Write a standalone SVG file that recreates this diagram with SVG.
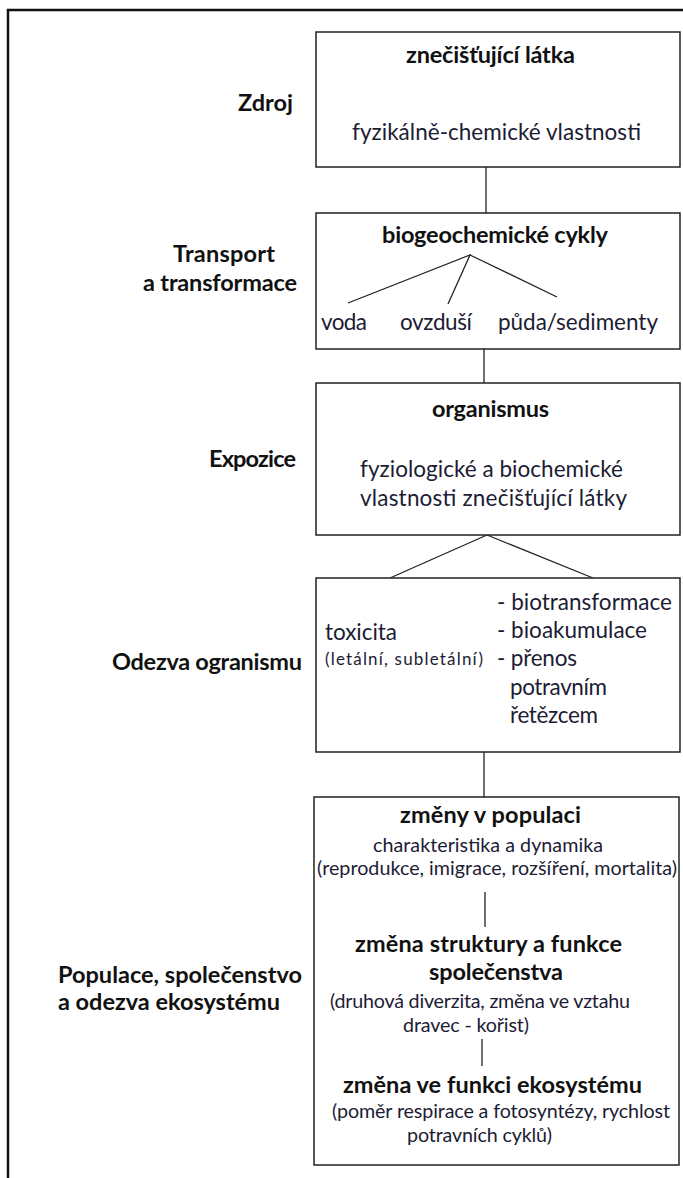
<svg xmlns="http://www.w3.org/2000/svg" width="683" height="1178" viewBox="0 0 683 1178">
<style>
text{font-family:Lato,"Open Sans","DejaVu Sans",sans-serif;fill:#1c1c34}
.b{font-weight:bold;fill:#111;font-size:23.5px}
.n{font-size:22.5px}
.s{font-size:19.7px}
.xs{font-size:17px}
.box{fill:#fff;stroke:#222;stroke-width:1.5}
.ln{stroke:#222;stroke-width:1.3;fill:none}
</style>
<rect width="683" height="1178" fill="#fff"/>
<path d="M8 1178 V10 H683" fill="none" stroke="#111" stroke-width="2.5"/>
<g id="labels">
<text class="b" x="238" y="111" textLength="55">Zdroj</text>
<text class="b" x="173" y="262" textLength="102">Transport</text>
<text class="b" x="143" y="291" textLength="154">a transformace</text>
<text class="b" x="209" y="467" textLength="87">Expozice</text>
<text class="b" x="112" y="670" textLength="190">Odezva ogranismu</text>
<text class="b" x="58" y="983" textLength="244">Populace, společenstvo</text>
<text class="b" x="58" y="1010" textLength="222">a odezva ekosystému</text>
</g>
<g id="connectors">
<line class="ln" x1="486" y1="167" x2="486" y2="213"/>
<line class="ln" x1="484" y1="349" x2="484" y2="383"/>
<line class="ln" x1="484" y1="752" x2="484" y2="797"/>
<line class="ln" x1="487" y1="535" x2="390" y2="578"/>
<line class="ln" x1="487" y1="535" x2="593" y2="578"/>
</g>
<g id="node-zdroj">
<rect class="box" x="316" y="32" width="364" height="135"/>
<text class="b" x="406" y="63" textLength="169">znečišťující látka</text>
<text class="n" x="352" y="140" textLength="289">fyzikálně-chemické vlastnosti</text>
</g>
<g id="node-transport">
<rect class="box" x="316" y="213" width="364" height="136"/>
<text class="b" x="382" y="243" textLength="226">biogeochemické cykly</text>
<path class="ln" d="M348 303 L470 255 L448 304 M470 255 L557 297"/>
<text class="n" x="321" y="330" textLength="46">voda</text>
<text class="n" x="400" y="330" textLength="72">ovzduší</text>
<text class="n" x="498" y="330" textLength="160">půda/sedimenty</text>
</g>
<g id="node-expozice">
<rect class="box" x="316" y="383" width="364" height="152"/>
<text class="b" x="432" y="417" textLength="117">organismus</text>
<text class="n" x="360" y="477" textLength="263">fyziologické a biochemické</text>
<text class="n" x="360" y="506" textLength="267">vlastnosti znečišťující látky</text>
</g>
<g id="node-odezva">
<rect class="box" x="316" y="578" width="364" height="174"/>
<text class="n" x="325" y="640" textLength="72">toxicita</text>
<text class="xs" x="325" y="665" textLength="158">(letální, subletální)</text>
<text class="n" x="497" y="610" textLength="175">- biotransformace</text>
<text class="n" x="497" y="638" textLength="150">- bioakumulace</text>
<text class="n" x="497" y="666" textLength="80">- přenos</text>
<text class="n" x="510" y="695" textLength="97">potravním</text>
<text class="n" x="510" y="723" textLength="88">řetězcem</text>
</g>
<g id="node-populace">
<rect class="box" x="314" y="797" width="365" height="368"/>
<text class="b" x="400" y="823" textLength="181">změny v populaci</text>
<text class="s" x="373" y="852" textLength="230">charakteristika a dynamika</text>
<text class="s" x="317" y="875" textLength="360">(reprodukce, imigrace, rozšíření, mortalita)</text>
<line class="ln" x1="485" y1="892" x2="485" y2="927"/>
<text class="b" x="355" y="952" textLength="267">změna struktury a funkce</text>
<text class="b" x="429" y="980" textLength="134">společenstva</text>
<text class="s" x="330" y="1008" textLength="300">(druhová diverzita, změna ve vztahu</text>
<text class="s" x="403" y="1032" textLength="126">dravec - kořist)</text>
<line class="ln" x1="482" y1="1039" x2="482" y2="1066"/>
<text class="b" x="343" y="1093" textLength="299">změna ve funkci ekosystému</text>
<text class="s" x="332" y="1118" textLength="338">(poměr respirace a fotosyntézy, rychlost</text>
<text class="s" x="407" y="1142" textLength="145">potravních cyklů)</text>
</g>
</svg>
